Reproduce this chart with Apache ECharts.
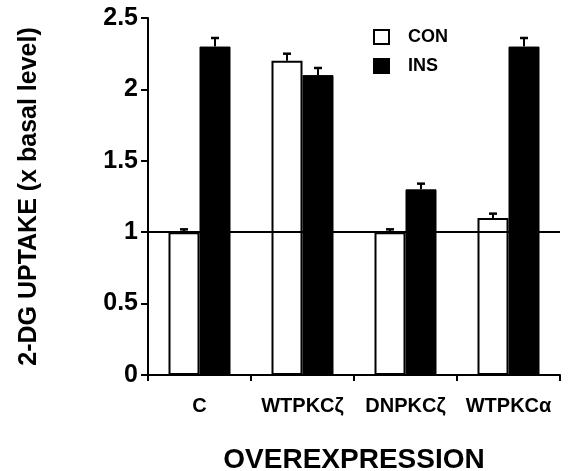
<!DOCTYPE html>
<html><head><meta charset="utf-8">
<script src="https://cdn.jsdelivr.net/npm/echarts@6/dist/echarts.min.js"></script>
<style>html,body{margin:0;padding:0;background:#fff}#c{width:569px;height:471px}</style>
</head><body><div id="c"></div>
<script>
const categories = ['C', 'WTPKCζ', 'DNPKCζ', 'WTPKCα'];
const conValues = [1.0, 2.2, 1.0, 1.1];
const conErrors = [0.02, 0.05, 0.02, 0.03];
const insValues = [2.3, 2.1, 1.3, 2.3];
const insErrors = [0.06, 0.05, 0.04, 0.06];
const yTicks = [0, 0.5, 1, 1.5, 2, 2.5];

const chart = echarts.init(document.getElementById('c'));
const FONT = '"Liberation Sans", Arial, sans-serif';
const BW = 31;

function errSeries(vals, errs, side) {
  return {
    type: 'custom',
    z: 5,
    silent: true,
    data: vals.map((v, i) => [i, v, v + errs[i]]),
    renderItem: function (params, api) {
      const i = api.value(0);
      const top = api.coord([i, api.value(1)]);
      const hi = api.coord([i, api.value(2)]);
      const x = top[0] + side * BW / 2;
      return {
        type: 'group',
        children: [
          {type: 'line', shape: {x1: x, y1: top[1], x2: x, y2: hi[1]}, style: {stroke: '#000', lineWidth: 2}},
          {type: 'line', shape: {x1: x - 4, y1: hi[1], x2: x + 4, y2: hi[1]}, style: {stroke: '#000', lineWidth: 2.5}}
        ]
      };
    }
  };
}

chart.setOption({
  animation: false,
  backgroundColor: '#fff',
  grid: {left: 148, right: 9, top: 18, bottom: 96, containLabel: false, outerBoundsMode: 'none'},
  legend: {
    orient: 'vertical', left: 368, top: 23, itemGap: 11,
    itemWidth: 15, itemHeight: 14, icon: 'rect',
    textStyle: {fontFamily: FONT, fontWeight: 'bold', fontSize: 18, color: '#000', padding: [0, 0, 0, 14]},
    data: ['CON', 'INS']
  },
  xAxis: {
    type: 'category', data: categories,
    name: 'OVEREXPRESSION', nameLocation: 'middle', nameGap: 71,
    nameTextStyle: {fontFamily: FONT, fontWeight: 'bold', fontSize: 28, color: '#000'},
    axisLine: {lineStyle: {color: '#000', width: 2}},
    axisTick: {show: true, length: 6, lineStyle: {color: '#000', width: 2}},
    axisLabel: {fontFamily: FONT, fontWeight: 'bold', fontSize: 20, color: '#000', margin: 21, interval: 0}
  },
  yAxis: {
    type: 'value', min: 0, max: 2.5, interval: 0.5,
    name: '2-DG UPTAKE (x basal level)', nameLocation: 'middle', nameGap: 106,
    nameTextStyle: {fontFamily: FONT, fontWeight: 'bold', fontSize: 25, color: '#000'},
    axisLine: {show: true, lineStyle: {color: '#000', width: 2}},
    axisTick: {show: true, length: 7, lineStyle: {color: '#000', width: 2}},
    splitLine: {show: false},
    axisLabel: {fontFamily: FONT, fontWeight: 'bold', fontSize: 25, color: '#000', margin: 10,
      formatter: v => String(v)}
  },
  series: [
    {
      name: 'CON', type: 'bar', data: conValues, barWidth: BW, barGap: '0%',
      itemStyle: {color: '#fff', borderColor: '#000', borderWidth: 2},
      markLine: {
        symbol: 'none', silent: true, label: {show: false},
        lineStyle: {color: '#000', width: 2, type: 'solid'},
        data: [{yAxis: 1}]
      }
    },
    {
      name: 'INS', type: 'bar', data: insValues, barWidth: BW,
      itemStyle: {color: '#000', borderColor: '#000', borderWidth: 1}
    },
    errSeries(conValues, conErrors, -1),
    errSeries(insValues, insErrors, 1)
  ]
});
</script></body></html>
